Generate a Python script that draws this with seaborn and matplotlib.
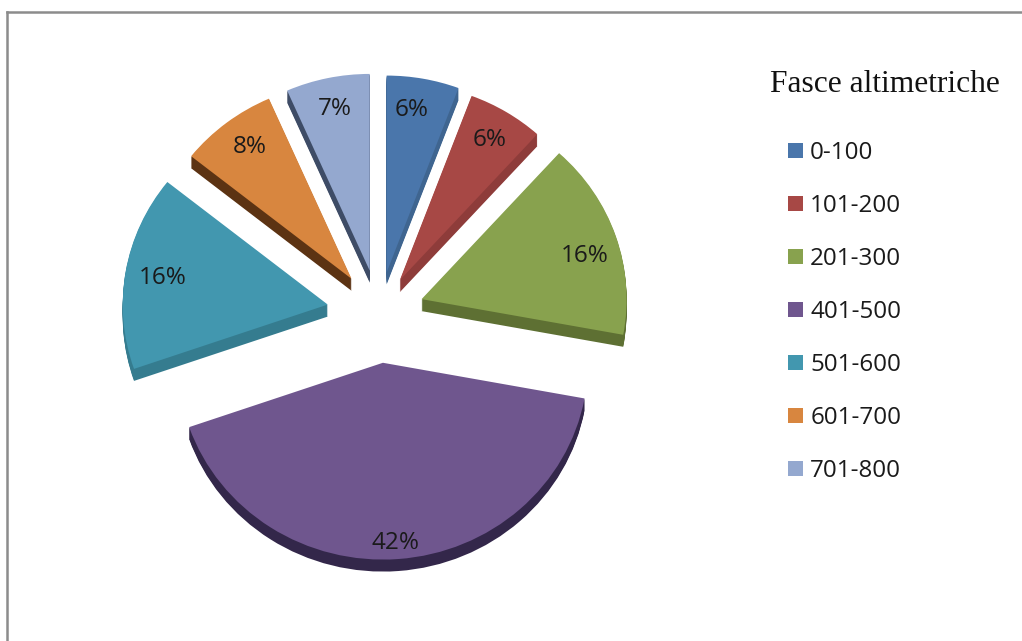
import matplotlib
matplotlib.use("Agg")
import matplotlib.pyplot as plt
import seaborn as sns
from matplotlib.lines import Line2D

categories = ["0-100", "101-200", "201-300", "401-500", "501-600", "601-700", "701-800"]
shares = [5.7, 6.0, 16.2, 41.8, 16.0, 7.7, 6.6]
legend_title = "Fasce altimetriche"

top_colors = ["#4A76AB", "#A74845", "#88A24E", "#6F568E", "#4297AF", "#D8863F", "#94A8CF"]
side_colors = ["#3F6590", "#8E3C3A", "#5E7033", "#33274A", "#357C8F", "#5C3313", "#3E4C66"]
explode_px = [43, 40, 45, 52, 52, 45, 45]
label_nudge_px = [(-7, 6), (-3, 6), (-6, 12), (-1, 9), (11, 2), (7, 4), (2, 6)]

W, H = 1022, 641
CX, CY, R, DEPTH, K = 379, 313, 205, 12, 0.96   # K: vertical squash of the tilted pie

sns.set_theme(style="white")
plt.rcParams["font.family"] = ["Open Sans", "DejaVu Sans"]

fig = plt.figure(figsize=(W / 100, H / 100), dpi=100, facecolor="white")
ax = fig.add_axes([0, 0, 1, 1])


def Y(py):
    return (H - py) / K


for d in range(DEPTH, 0, -1):
    ax.pie(shares, explode=explode_px, colors=sns.color_palette(side_colors), startangle=90,
           counterclock=False, radius=R, center=(CX, Y(CY + d)),
           wedgeprops=dict(linewidth=0))

wedges, _, pct = ax.pie(shares, explode=explode_px, colors=sns.color_palette(top_colors), startangle=90,
                        counterclock=False, radius=R, center=(CX, Y(CY)),
                        wedgeprops=dict(linewidth=0), autopct="%.0f%%", pctdistance=0.87,
                        textprops=dict(fontsize=17.5, color="#1a1a1a"))
for t, (dx, dy) in zip(pct, label_nudge_px):
    x, y = t.get_position()
    t.set_position((x + dx, y - dy / K))

ax.set_aspect("auto")
ax.set_xlim(0, W)
ax.set_ylim(0, H / K)
ax.axis("off")

ax.text(885, Y(85), legend_title, family="Liberation Serif", fontsize=22.7, color="#111111",
        ha="center", va="center")
ax.legend(wedges, categories, loc="upper left", bbox_to_anchor=(788 / W, 1 - 141 / H), frameon=False,
          fontsize=17.4, handlelength=0.62, handleheight=0.62, handletextpad=0.3, labelspacing=1.2,
          labelcolor="#1a1a1a", borderpad=0, borderaxespad=0)

for xs, ys in [((7, W), (Y(12), Y(12))), ((7, 7), (0, Y(12)))]:
    ax.add_line(Line2D(xs, ys, color="#8c8c8c", lw=1.8, solid_capstyle="projecting"))

fig.savefig("out.png", dpi=100)
